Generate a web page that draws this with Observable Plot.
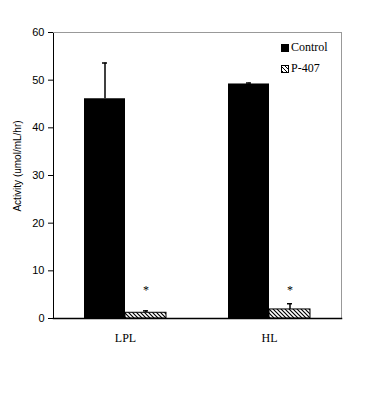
<!DOCTYPE html>
<html>
<head>
<meta charset="utf-8">
<script src="https://cdn.jsdelivr.net/npm/d3@7"></script>
<script src="https://cdn.jsdelivr.net/npm/@observablehq/plot@0.6"></script>
<style>
  html, body { margin: 0; padding: 0; background: #fff; }
  #chart { position: relative; width: 375px; height: 395px; }
  .legend { position: absolute; left: 281px; top: 37px; font-family: "Liberation Serif", serif; font-size: 12px; color: #000; }
  .legend div { display: flex; align-items: center; height: 21px; }
  .legend .sw { width: 8px; height: 8px; margin-right: 2px; box-sizing: border-box; border: 1px solid #000; }
</style>
</head>
<body>
<div id="chart"></div>
<script>
const categories = ["LPL", "HL"];
const series = ["Control", "P-407"];
const controlValues = [46.1, 49.2];
const controlErrors = [7.5, 0.2];
const p407Values = [1.2, 1.9];
const p407Errors = [0.4, 1.2];
const yTicks = [0, 10, 20, 30, 40, 50, 60];
const sigMarks = ["*", "*"];

const data = [];
categories.forEach((c, i) => {
  data.push({cat: c, series: "Control", value: controlValues[i], err: controlErrors[i]});
  data.push({cat: c, series: "P-407", value: p407Values[i], err: p407Errors[i]});
});
const sig = categories.map((c, i) => ({cat: c, series: "P-407", mark: sigMarks[i], y: 6.6}));

const plot = Plot.plot({
  width: 375,
  height: 395,
  marginLeft: 53,
  marginRight: 34,
  marginTop: 32,
  marginBottom: 77,
  style: {background: "white", color: "black"},
  fx: {domain: categories, paddingInner: 0, paddingOuter: 0, label: null, tickSize: 0, tickPadding: 15, axis: "bottom"},
  x: {domain: series, paddingInner: 0, paddingOuter: 0.735, axis: null},
  y: {domain: [0, 60], ticks: yTicks, tickSize: 5, tickPadding: 4, label: "Activity (umol/mL/hr)", labelArrow: "none", labelAnchor: "center", labelOffset: 40, line: true},
  marks: [
    Plot.frame({facet: "super", anchor: "top", stroke: "#999"}),
    Plot.frame({facet: "super", anchor: "right", stroke: "#999"}),
    Plot.ruleX(data, {fx: "cat", x: "series", y1: "value", y2: d => d.value + d.err, stroke: "black", strokeWidth: 1.5}),
    Plot.tickY(data, {fx: "cat", x: "series", y: d => d.value + d.err, stroke: "black", strokeWidth: 1.5, insetLeft: 18, insetRight: 18}),
    Plot.barY(data.filter(d => d.series === "Control"), {fx: "cat", x: "series", y: "value", fill: "black"}),
    Plot.barY(data.filter(d => d.series === "P-407"), {fx: "cat", x: "series", y: "value", fill: "url(#hatch)", stroke: "black", strokeWidth: 1}),
    Plot.text(sig, {fx: "cat", x: "series", y: "y", text: "mark", fill: "black", fontSize: 12, fontFamily: "Liberation Serif, serif", lineAnchor: "middle", dy: 3}),
    Plot.frame({facet: "super", anchor: "bottom", stroke: "black", strokeWidth: 1.5})
  ]
});

const svg = d3.select(plot.tagName.toLowerCase() === "svg" ? plot : plot.querySelector("svg"));
svg.style("font-family", "'Liberation Sans', Arial, sans-serif").style("font-size", "11px");
const defs = svg.insert("defs", ":first-child");
const pat = defs.append("pattern").attr("id", "hatch").attr("patternUnits", "userSpaceOnUse").attr("width", 4).attr("height", 4);
pat.append("rect").attr("width", 4).attr("height", 4).attr("fill", "white");
pat.append("path").attr("d", "M-1,-1L5,5M3,-1L5,1M-1,3L1,5").attr("stroke", "black").attr("stroke-width", 1.2);

svg.selectAll("[aria-label='fx-axis tick label'] text, [aria-label='fx-axis'] text").style("font-family", "'Liberation Serif', serif").style("font-size", "12px");
svg.selectAll("[aria-label='y-axis label'] text").style("font-size", "10px").attr("dx", 9.5);

const container = document.getElementById("chart");
container.appendChild(plot);
const legend = document.createElement("div");
legend.className = "legend";
legend.innerHTML = `<div><span class="sw" style="background:#000"></span>${series[0]}</div>
<div><span class="sw" style="background:repeating-linear-gradient(45deg,#000 0 1px,#fff 1px 3px)"></span>${series[1]}</div>`;
container.appendChild(legend);
</script>
</body>
</html>
